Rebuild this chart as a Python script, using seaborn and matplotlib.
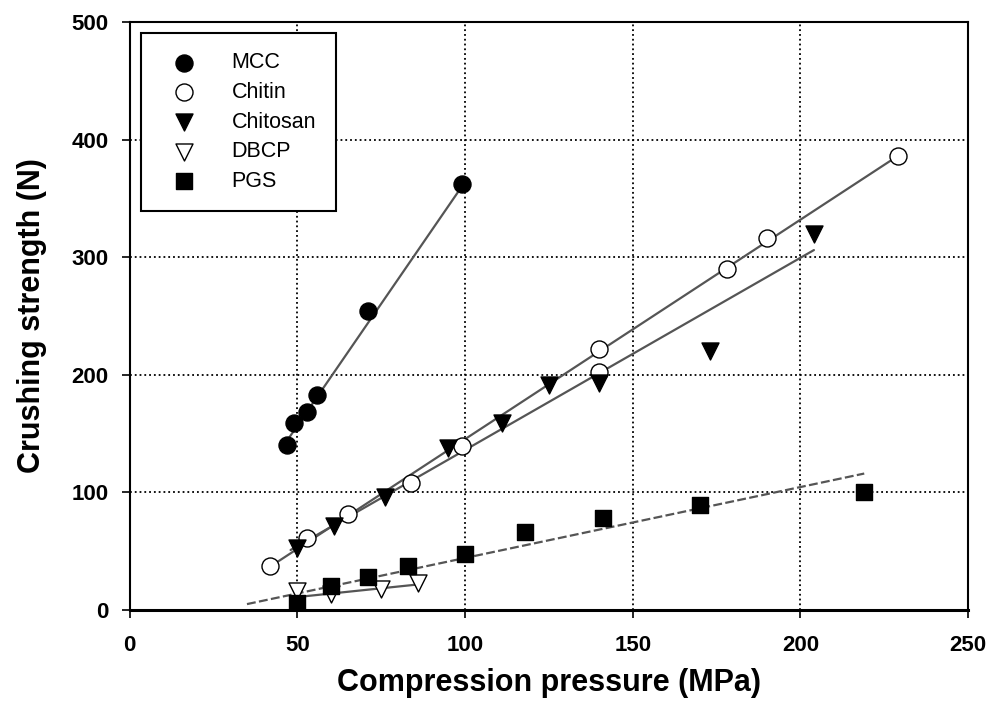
import numpy as np
import pandas as pd
import matplotlib
matplotlib.use("Agg")
import matplotlib.pyplot as plt
import seaborn as sns

# measured points (compression pressure MPa, crushing strength N)
mcc_x = [47, 49, 53, 56, 71, 99]
mcc_y = [140, 159, 168, 183, 254, 362]
chitin_x = [42, 53, 65, 84, 99, 140, 140, 178, 190, 229]
chitin_y = [37, 61, 82, 108, 139, 202, 222, 290, 316, 386]
chitosan_x = [50, 61, 76, 95, 111, 125, 140, 173, 204]
chitosan_y = [53, 71, 96, 138, 159, 191, 193, 220, 320]
dbcp_x = [50, 60, 75, 86]
dbcp_y = [16, 14, 18, 23]
pgs_x = [50, 60, 71, 83, 100, 118, 141, 170, 219]
pgs_y = [6, 20, 28, 37, 48, 66, 78, 89, 100]

# regression line end points
mcc_fit_x = [46, 100]
mcc_fit_y = [140, 364]
chitin_fit_x = [42, 229]
chitin_fit_y = [37, 386]
chitosan_fit_x = [48, 204]
chitosan_fit_y = [51, 306]
dbcp_fit_x = [50, 87]
dbcp_fit_y = [11, 22]
pgs_fit_x = [35, 219]
pgs_fit_y = [5, 116]

x_ticks = [0, 50, 100, 150, 200, 250]
y_ticks = [0, 100, 200, 300, 400, 500]

sns.set_style("white")
plt.rcParams['font.family'] = ['Liberation Sans', 'DejaVu Sans']
plt.rcParams['text.color'] = 'black'
plt.rcParams['axes.labelcolor'] = 'black'
plt.rcParams['xtick.color'] = 'black'
plt.rcParams['ytick.color'] = 'black'

fig = plt.figure(figsize=(9.89, 7.06), dpi=100)
ax = fig.add_axes([0.131, 0.136, 0.848, 0.833])

series = [
    ("MCC", mcc_x, mcc_y, "o", "black", 150),
    ("Chitin", chitin_x, chitin_y, "o", "white", 150),
    ("Chitosan", chitosan_x, chitosan_y, "v", "black", 150),
    ("DBCP", dbcp_x, dbcp_y, "v", "white", 150),
    ("PGS", pgs_x, pgs_y, "s", "black", 120),
]

fits = [
    (mcc_fit_x, mcc_fit_y, "-"),
    (chitin_fit_x, chitin_fit_y, "-"),
    (chitosan_fit_x, chitosan_fit_y, "-"),
    (dbcp_fit_x, dbcp_fit_y, "-"),
    (pgs_fit_x, pgs_fit_y, (0, (4, 1.5))),
]
for fx, fy, ls in fits:
    sns.lineplot(x=fx, y=fy, ax=ax, color="#555555", linewidth=1.6,
                 linestyle=ls, legend=False, zorder=2)

for name, xs, ys, mk, fc, sz in series:
    df = pd.DataFrame({"x": xs, "y": ys})
    sns.scatterplot(data=df, x="x", y="y", ax=ax, marker=mk, s=sz,
                    facecolor=fc, edgecolor="black", linewidth=1.0,
                    label=name, zorder=3)

ax.set_xlim(0, 250)
ax.set_ylim(0, 500)
ax.set_xticks(x_ticks)
ax.set_yticks(y_ticks)
ax.set_xticklabels([str(t) for t in x_ticks], fontsize=16, fontweight="bold")
ax.set_yticklabels([str(t) for t in y_ticks], fontsize=16, fontweight="bold")
ax.tick_params(direction="out", length=6, width=1.2, color="black",
               bottom=True, left=True)
ax.tick_params(axis="x", pad=12)
ax.tick_params(axis="y", pad=9)
ax.grid(True, linestyle=":", color="black", linewidth=1.3)
ax.set_axisbelow(True)
for sp in ax.spines.values():
    sp.set_color("black")
    sp.set_linewidth(1.5)
ax.spines["bottom"].set_linewidth(2.2)

ax.set_xlabel("Compression pressure (MPa)", fontsize=22, fontweight="bold", labelpad=9)
ax.set_ylabel("Crushing strength (N)", fontsize=22, fontweight="bold", labelpad=18)

leg = ax.legend(loc="upper left", bbox_to_anchor=(0.014, 0.981), fontsize=15.5,
                frameon=True, fancybox=False, edgecolor="black",
                borderpad=0.9, labelspacing=0.4, handletextpad=1.1,
                handlelength=2.2, borderaxespad=0, markerscale=1.0)
leg.get_frame().set_linewidth(1.5)
leg.get_frame().set_alpha(1)

fig.savefig("out.png", dpi=100)
